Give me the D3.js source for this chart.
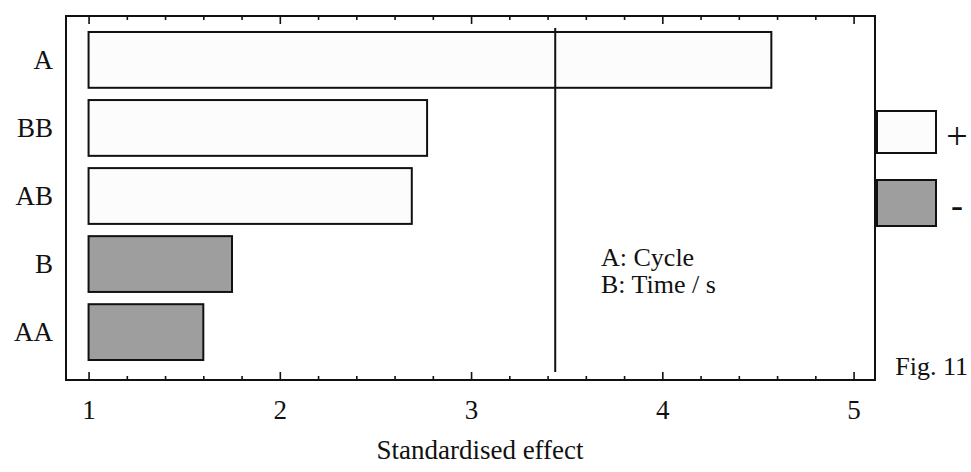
<!DOCTYPE html>
<html>
<head>
<meta charset="utf-8">
<script src="https://cdn.jsdelivr.net/npm/d3@7/dist/d3.min.js"></script>
<style>
  html, body { margin: 0; padding: 0; background: #fff; }
  svg { display: block; }
  text { font-family: "Liberation Serif", "Times New Roman", serif; fill: #111; }
</style>
</head>
<body>
<svg id="chart" width="971" height="472"></svg>
<script>
// ---- data ----
const categories = ["A", "BB", "AB", "B", "AA"];
const effects = [4.57, 2.77, 2.69, 1.75, 1.60];
const signs = ["+", "+", "+", "-", "-"];
const referenceLine = 3.44;
const xTickLabels = [1, 2, 3, 4, 5];
const minorTicks = [1.2, 1.4, 1.6, 1.8, 2.2, 2.4, 2.6, 2.8, 3.2, 3.4, 3.6, 3.8, 4.2, 4.4, 4.6, 4.8];
const legendItems = ["+", "-"];
const factorNotes = ["A: Cycle", "B: Time / s"];
const axisTitle = "Standardised effect";
const figLabel = "Fig. 11";

// ---- layout ----
const svg = d3.select("#chart");
const frame = { left: 66, right: 875, top: 16, bottom: 380 };
const fillFor = { "+": "#fcfcfc", "-": "#9e9e9e" };
const serif = "'Liberation Serif', 'Times New Roman', serif";

const x = d3.scaleLinear().domain([0.882, 5.112]).range([frame.left, frame.right]);
const y = d3.scaleBand().domain(categories).range([26, 366])
  .paddingInner(0.18).paddingOuter(0.088);

// frame
svg.append("rect")
  .attr("x", frame.left).attr("y", frame.top)
  .attr("width", frame.right - frame.left).attr("height", frame.bottom - frame.top)
  .attr("fill", "none").attr("stroke", "#111").attr("stroke-width", 2);

// bottom axis: minor ticks
svg.append("g").attr("transform", `translate(0,${frame.bottom})`)
  .call(d3.axisBottom(x).tickValues(minorTicks).tickSizeInner(-4).tickSizeOuter(0).tickFormat(""))
  .call(g => g.select(".domain").remove())
  .call(g => g.selectAll("line").attr("stroke", "#111").attr("stroke-width", 1.6));
// bottom axis: major ticks + labels
svg.append("g").attr("transform", `translate(0,${frame.bottom})`)
  .call(d3.axisBottom(x).tickValues(xTickLabels).tickSizeInner(-8).tickSizeOuter(0)
    .tickPadding(20).tickFormat(d3.format("d")))
  .call(g => g.select(".domain").remove())
  .call(g => g.selectAll("line").attr("stroke", "#111").attr("stroke-width", 1.6))
  .call(g => g.selectAll("text").attr("font-size", 27).attr("fill", "#111")
    .style("font-family", serif));

// top axis ticks (inward)
svg.append("g").attr("transform", `translate(0,${frame.top})`)
  .call(d3.axisTop(x).tickValues(minorTicks).tickSizeInner(-4).tickSizeOuter(0).tickFormat(""))
  .call(g => g.select(".domain").remove())
  .call(g => g.selectAll("line").attr("stroke", "#111").attr("stroke-width", 1.6));
svg.append("g").attr("transform", `translate(0,${frame.top})`)
  .call(d3.axisTop(x).tickValues(xTickLabels).tickSizeInner(-8).tickSizeOuter(0).tickFormat(""))
  .call(g => g.select(".domain").remove())
  .call(g => g.selectAll("line").attr("stroke", "#111").attr("stroke-width", 1.6));

// category axis labels
svg.append("g").attr("transform", `translate(${frame.left},0)`)
  .call(d3.axisLeft(y).tickSize(0).tickPadding(13))
  .call(g => g.select(".domain").remove())
  .call(g => g.selectAll("text").attr("font-size", 27).attr("fill", "#111")
    .style("font-family", serif));

// bars
const data = categories.map((c, i) => ({ c, v: effects[i], s: signs[i] }));
svg.append("g").selectAll("rect").data(data).join("rect")
  .attr("x", x(1))
  .attr("y", d => y(d.c))
  .attr("width", d => x(d.v) - x(1))
  .attr("height", y.bandwidth())
  .attr("fill", d => fillFor[d.s])
  .attr("stroke", "#111").attr("stroke-width", 2);

// reference line
svg.append("line")
  .attr("x1", x(referenceLine)).attr("x2", x(referenceLine))
  .attr("y1", 28).attr("y2", 372)
  .attr("stroke", "#111").attr("stroke-width", 2);

// factor notes
svg.append("g").selectAll("text").data(factorNotes).join("text")
  .attr("x", 601).attr("y", (d, i) => 266 + i * 27)
  .attr("font-size", 26).style("font-family", serif).text(d => d);

// legend
const leg = svg.append("g");
leg.selectAll("rect").data(legendItems).join("rect")
  .attr("x", 877).attr("y", (d, i) => 111 + i * 69)
  .attr("width", 59).attr("height", (d, i) => i === 0 ? 42 : 46)
  .attr("fill", d => fillFor[d]).attr("stroke", "#111").attr("stroke-width", 2);
leg.selectAll("text").data(legendItems).join("text")
  .attr("x", 957).attr("y", (d, i) => i === 0 ? 149 : 217)
  .attr("text-anchor", "middle")
  .attr("font-size", d => d === "+" ? 38 : 36)
  .style("font-family", serif)
  .text(d => d);

// axis title
svg.append("text").attr("x", 480).attr("y", 459).attr("text-anchor", "middle")
  .attr("font-size", 27).style("font-family", serif).text(axisTitle);

// figure label (kept fully inside the canvas)
svg.append("text").attr("x", 968).attr("y", 375).attr("text-anchor", "end")
  .attr("font-size", 26).style("font-family", serif).text(figLabel);
</script>
</body>
</html>
